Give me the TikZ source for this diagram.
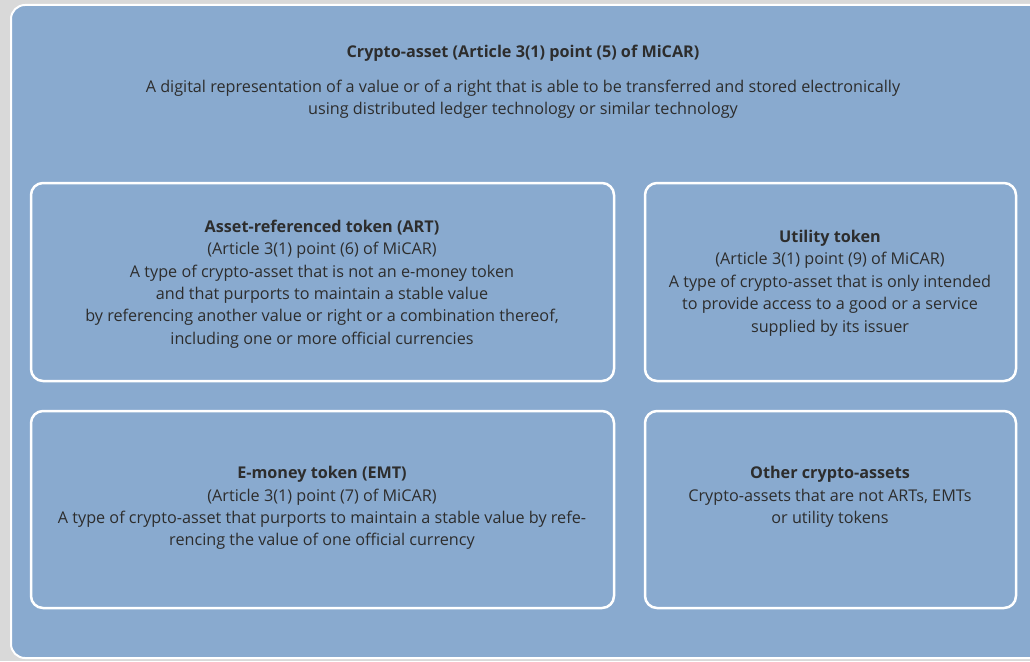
\documentclass[tikz,border=0pt]{standalone}
\usepackage{fontspec}
\setmainfont{Open Sans}
\definecolor{panelblue}{RGB}{137,170,207}
\definecolor{framegray}{RGB}{217,217,217}
\definecolor{inktext}{RGB}{45,45,45}
\tikzset{
  tokenbox/.style={draw=white, line width=2.5pt, rounded corners=12pt},
  boxtext/.style={align=center, text=inktext, inner sep=0pt,
    font=\fontsize{16.2}{22.4}\selectfont},
}
\begin{document}
\begin{tikzpicture}[x=1pt, y=-1pt, line join=round, line cap=round]
  % frame and background panel
  \fill[framegray] (0,0) rectangle (1030,661);
  \useasboundingbox (0,0) rectangle (1030,661);
  \draw[fill=panelblue, draw=white, line width=2pt, rounded corners=14pt]
    (11,5) rectangle (1050,658);
  % heading
  \node[boxtext] (crypto) at (523,53) {\textbf{Crypto-asset (Article 3(1) point (5) of MiCAR)}};
  \node[boxtext] (cryptodef) at (523,99) {A digital representation of a value or of a right that is able to be transferred and stored electronically\\
    using distributed ledger technology or similar technology};
  % four token boxes
  \draw[tokenbox] (31,183) rectangle (614,381);
  \draw[tokenbox] (645,183) rectangle (1016,381);
  \draw[tokenbox] (31,411) rectangle (614,608);
  \draw[tokenbox] (645,411) rectangle (1016,608);
  \node[boxtext] (art) at (322,284) {\textbf{Asset-referenced token (ART)}\\
    (Article 3(1) point (6) of MiCAR)\\
    A type of crypto-asset that is not an e-money token\\
    and that purports to maintain a stable value\\
    by referencing another value or right or a combination thereof,\\
    including one or more official currencies};
  \node[boxtext] (utility) at (830,283) {\textbf{Utility token}\\
    (Article 3(1) point (9) of MiCAR)\\
    A type of crypto-asset that is only intended\\
    to provide access to a good or a service\\
    supplied by its issuer};
  \node[boxtext] (emt) at (322,508) {\textbf{E-money token (EMT)}\\
    (Article 3(1) point (7) of MiCAR)\\
    A type of crypto-asset that purports to maintain a stable value by refe-\\
    rencing the value of one official currency};
  \node[boxtext] (other) at (830,497) {\textbf{Other crypto-assets}\\
    Crypto-assets that are not ARTs, EMTs\\
    or utility tokens};
\end{tikzpicture}
\end{document}
